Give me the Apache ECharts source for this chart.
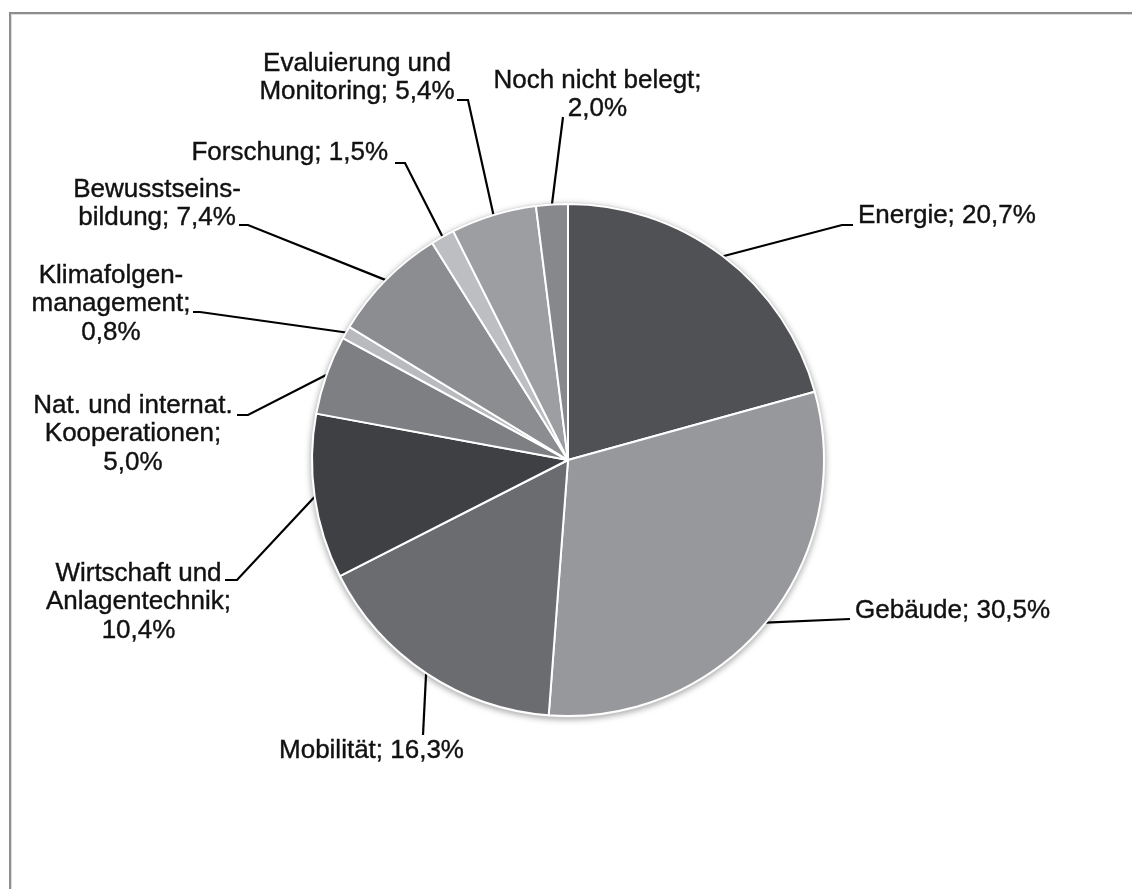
<!DOCTYPE html>
<html>
<head>
<meta charset="utf-8">
<script src="https://cdn.jsdelivr.net/npm/echarts@6/dist/echarts.min.js"></script>
<style>
  html, body { margin: 0; padding: 0; background: #ffffff; }
  #chart { width: 1132px; height: 889px; }
</style>
</head>
<body>
<div id="chart"></div>
<script>
// Budget shares by field of action (percent), clockwise from 12 o'clock
const categories = [
  'Energie',
  'Gebäude',
  'Mobilität',
  'Wirtschaft und\nAnlagentechnik',
  'Nat. und internat.\nKooperationen',
  'Klimafolgen-\nmanagement',
  'Bewusstseins-\nbildung',
  'Forschung',
  'Evaluierung und\nMonitoring',
  'Noch nicht belegt'
];
const shares = [20.7, 30.5, 16.3, 10.4, 5.0, 0.8, 7.4, 1.5, 5.4, 2.0];
// whether the percentage starts on its own line
const valueOnNewLine = [false, false, false, true, true, true, false, false, false, true];
const sliceColors = [
  '#505155', '#97989c', '#6b6c70', '#3e4043', '#7e7f83',
  '#b9babd', '#8c8d91', '#bdbec1', '#9d9ea2', '#87888c'
];

// geometry of the pie
const CENTER = [568, 460];
const RADIUS = 256;

// label anchor relative to pie centre: [dx, dy, align]
const LABEL_POS = [
  [290, -244, 'left'],
  [287, 150.5, 'left'],
  [-196.5, 290.5, 'center'],
  [-429.5, 142, 'center'],
  [-435, -26, 'center'],
  [-457, -156, 'center'],
  [-411, -256, 'center'],
  [-180, -307, 'right'],
  [-211, -382, 'center'],
  [29.5, -365, 'center']
];
// leader line bends / end points relative to pie centre (start is the slice edge)
const LEADER_PTS = [
  [[274, -235], [285, -235]],
  [[282, 159]],
  [[-145, 275]],
  [[-331, 120], [-343, 120]],
  [[-320, -45], [-331, -45]],
  [[-368, -148], [-375, -148]],
  [[-320, -235], [-329, -235]],
  [[-163, -297], [-173, -297]],
  [[-100, -360], [-111, -360]],
  [[-5, -343]]
];

const fmtPct = v => v.toFixed(1).replace('.', ',') + '%';

const seriesData = categories.map((name, i) => ({
  name: name,
  value: shares[i],
  itemStyle: { color: sliceColors[i] }
}));

const chart = echarts.init(document.getElementById('chart'), null, { renderer: 'canvas' });

chart.setOption({
  animation: false,
  backgroundColor: '#ffffff',
  graphic: [
    {
      // frame around the plot area
      type: 'polyline',
      z: 0,
      silent: true,
      shape: { points: [[10, 900], [10, 13], [1140, 13]] },
      style: { stroke: '#8e8e8e', lineWidth: 2, fill: null }
    },
    {
      type: 'polyline',
      z: 0,
      silent: true,
      shape: { points: [[11.5, 900], [11.5, 14.5], [1140, 14.5]] },
      style: { stroke: '#dcdcdc', lineWidth: 1, fill: null }
    },
    {
      // soft rim and shadow under the pie
      type: 'circle',
      z: 1,
      silent: true,
      shape: { cx: CENTER[0], cy: CENTER[1], r: RADIUS + 1.5 },
      style: {
        fill: '#d6d6d6',
        shadowBlur: 6,
        shadowColor: 'rgba(0,0,0,0.35)',
        shadowOffsetY: 2
      }
    }
  ],
  series: [
    {
      type: 'pie',
      z: 2,
      center: CENTER,
      radius: RADIUS,
      startAngle: 90,
      clockwise: true,
      avoidLabelOverlap: false,
      data: seriesData,
      itemStyle: { borderColor: '#ffffff', borderWidth: 2 },
      emphasis: { disabled: true },
      label: {
        show: true,
        position: 'outside',
        fontFamily: '"Liberation Sans", Arial, sans-serif',
        fontSize: 26,
        lineHeight: 28.5,
        color: '#111111',
        textBorderColor: '#111111',
        textBorderWidth: 0.4,
        formatter: p => {
          const i = p.dataIndex;
          return p.name + ';' + (valueOnNewLine[i] ? '\n' : ' ') + fmtPct(p.value);
        }
      },
      labelLine: {
        show: true,
        length: 12,
        length2: 12,
        smooth: false,
        lineStyle: { color: '#000000', width: 2.2 }
      },
      labelLayout: params => {
        const i = params.dataIndex;
        const pos = LABEL_POS[i];
        const start = params.labelLinePoints ? params.labelLinePoints[0] : null;
        const pts = [];
        if (start) pts.push(start);
        LEADER_PTS[i].forEach(pt => pts.push([CENTER[0] + pt[0], CENTER[1] + pt[1]]));
        return {
          x: CENTER[0] + pos[0],
          y: CENTER[1] + pos[1],
          align: pos[2],
          verticalAlign: 'middle',
          labelLinePoints: pts
        };
      }
    }
  ]
});
</script>
</body>
</html>
